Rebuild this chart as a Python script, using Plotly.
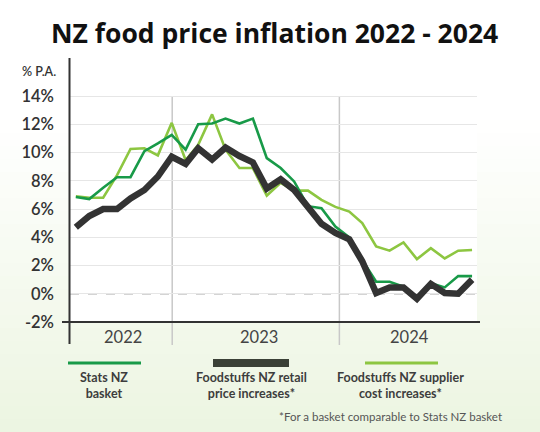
import plotly.graph_objects as go

# ---------------- data ----------------
months = ["2022-06", "2022-07", "2022-08", "2022-09", "2022-10", "2022-11", "2022-12",
          "2023-01", "2023-02", "2023-03", "2023-04", "2023-05", "2023-06", "2023-07",
          "2023-08", "2023-09", "2023-10", "2023-11", "2023-12", "2024-01", "2024-02",
          "2024-03", "2024-04", "2024-05", "2024-06", "2024-07", "2024-08", "2024-09",
          "2024-10", "2024-11"]

stats_nz = [6.85, 6.7, 7.5, 8.25, 8.25, 10.1, 10.65, 11.25, 10.2, 12.0,
            12.05, 12.4, 12.05, 12.4, 9.6, 8.9, 7.95, 6.2, 6.05, 4.75,
            4.0, 2.4, 0.85, 0.85, 0.5, -0.25, 0.75, 0.45, 1.25, 1.25]

foodstuffs_retail = [4.7, 5.5, 6.0, 6.0, 6.75, 7.35, 8.3, 9.7, 9.2, 10.3,
                     9.5, 10.35, 9.75, 9.3, 7.45, 8.1, 7.35, 6.05, 4.95, 4.3,
                     3.85, 2.3, 0.05, 0.45, 0.45, -0.35, 0.7, 0.05, 0.0, 1.0]

foodstuffs_supplier = [6.9, 6.8, 6.8, 8.4, 10.25, 10.3, 9.8, 12.1, 9.45, 10.55,
                       12.7, 10.2, 8.9, 8.9, 6.95, 7.85, 7.3, 7.3, 6.65, 6.15,
                       5.82, 5.0, 3.35, 3.05, 3.63, 2.45, 3.23, 2.5, 3.05, 3.1]

y_ticks = [-2, 0, 2, 4, 6, 8, 10, 12, 14]
y_tick_labels = ["-2%", "0%", "2%", "4%", "6%", "8%", "10%", "12%", "14%"]
year_labels = ["2022", "2023", "2024"]
series_names = ["Stats NZ<br>basket", "Foodstuffs NZ retail<br>price increases*",
                "Foodstuffs NZ supplier<br>cost increases*"]

# ---------------- styling ----------------
C_STATS = "#189a48"
C_RETAIL = "#333333"
C_SUPP = "#8dc641"
C_TEXT = "#333333"
FONT = "Lato"

W, H = 540, 432
L, R, T, B = 70, 63, 58, 110
PW, PH = W - L - R, H - T - B


def px(x):
    return (x - L) / PW


def py(y):
    return (H - B - y) / PH


months_d = [m + "-01" for m in months]
x_range = ["2022-05-19", "2024-11-12"]
dividers = ["2023-01-02", "2024-01-10"]
year_pos = ["2022-09-15", "2023-07-15", "2024-06-15"]

fig = go.Figure()

for vals, col, w, name in [
    (foodstuffs_supplier, C_SUPP, 2.6, series_names[2]),
    (stats_nz, C_STATS, 2.6, series_names[0]),
    (foodstuffs_retail, C_RETAIL, 6.5, series_names[1]),
]:
    fig.add_trace(go.Scatter(x=months_d, y=vals, mode="lines", name=name,
                             line=dict(color=col, width=w), showlegend=False,
                             hoverinfo="skip"))

shapes = []
# background gradient bands (white at top to pale green at bottom)
n = 24
top_c = (255, 255, 255)
bot_c = (236, 245, 225)
start = 120
for i in range(n):
    y0 = start + (H - start) * i / n
    y1 = start + (H - start) * (i + 1) / n
    t = (i + 0.5) / n
    c = tuple(int(round(top_c[k] + (bot_c[k] - top_c[k]) * t)) for k in range(3))
    shapes.append(dict(type="rect", xref="paper", yref="paper", x0=px(0), x1=px(W),
                       y0=py(y1), y1=py(y0), fillcolor="rgb(%d,%d,%d)" % c,
                       line=dict(width=0), layer="below"))
# white plot area
shapes.append(dict(type="rect", xref="x domain", yref="y domain", x0=0, x1=1, y0=0, y1=1,
                   fillcolor="white", line=dict(width=0), layer="below"))
# zero dashed line
shapes.append(dict(type="line", xref="x domain", yref="y", x0=0, x1=1, y0=0, y1=0,
                   line=dict(color="#aaaaaa", width=1.5, dash="dash"), layer="below"))
# year dividers
for d in dividers:
    shapes.append(dict(type="line", xref="x", yref="paper", x0=d, x1=d,
                       y0=py(345), y1=py(96), line=dict(color="#c8c8c8", width=1.5),
                       layer="below"))
# axes lines
shapes.append(dict(type="line", xref="paper", yref="paper", x0=px(69.5), x1=px(69.5),
                   y0=py(344), y1=py(58), line=dict(color="#333333", width=2)))
shapes.append(dict(type="line", xref="paper", yref="paper", x0=px(62), x1=px(480),
                   y0=py(322), y1=py(322), line=dict(color="#333333", width=2)))
# legend swatches
for (x0, x1, col, w) in [(68, 141, C_STATS, 3), (213, 289, "#3b4137", 8), (365, 438, C_SUPP, 3)]:
    shapes.append(dict(type="line", xref="paper", yref="paper", x0=px(x0), x1=px(x1),
                       y0=py(363), y1=py(363), line=dict(color=col, width=w)))

annotations = []
annotations.append(dict(text="<b>NZ food price inflation 2022 - 2024</b>", xref="paper", yref="paper",
                        x=px(274), y=py(33), showarrow=False, xanchor="center", yanchor="middle",
                        font=dict(family="Open Sans", size=26.5, color="#111111")))
annotations.append(dict(text="% P.A.", xref="paper", yref="paper", x=px(58), y=py(72),
                        showarrow=False, xanchor="right", yanchor="middle",
                        font=dict(family=FONT, size=12.5, color=C_TEXT, weight=600)))
for lab, xp in zip(year_labels, year_pos):
    annotations.append(dict(text=lab, xref="x", yref="paper", x=xp, y=py(337),
                            showarrow=False, xanchor="center", yanchor="middle",
                            font=dict(family=FONT, size=16.5, color="#444444")))
for lab, cx in zip(series_names, [104, 251, 400]):
    annotations.append(dict(text="<b>" + lab.replace("<br>", "</b><br><b>") + "</b>",
                            xref="paper", yref="paper", x=px(cx), y=py(385),
                            showarrow=False, xanchor="center", yanchor="middle",
                            font=dict(family=FONT, size=12.5, color="#3d3d3d")))
annotations.append(dict(text="*For a basket comparable to Stats NZ basket", xref="paper", yref="paper",
                        x=px(504), y=py(416), showarrow=False, xanchor="right", yanchor="middle",
                        font=dict(family=FONT, size=11.5, color="#555555")))

fig.update_layout(
    width=W, height=H,
    margin=dict(l=L, r=R, t=T, b=B, pad=0),
    paper_bgcolor="white",
    plot_bgcolor="rgba(0,0,0,0)",
    shapes=shapes,
    annotations=annotations,
    xaxis=dict(type="date", range=x_range, showgrid=False, showticklabels=False,
               zeroline=False, showline=False, ticks=""),
    yaxis=dict(range=[-2, 16.69], tickvals=y_ticks, ticktext=y_tick_labels,
               showgrid=True, gridcolor="#e6e6e6", gridwidth=1.2, zeroline=False,
               showline=False, ticks="", ticklabelstandoff=15,
               tickfont=dict(family=FONT, size=16.5, color=C_TEXT, weight=600)),
)

fig.write_html("out.html", config={"displayModeBar": False},
               post_script="document.body.style.margin='0';")
